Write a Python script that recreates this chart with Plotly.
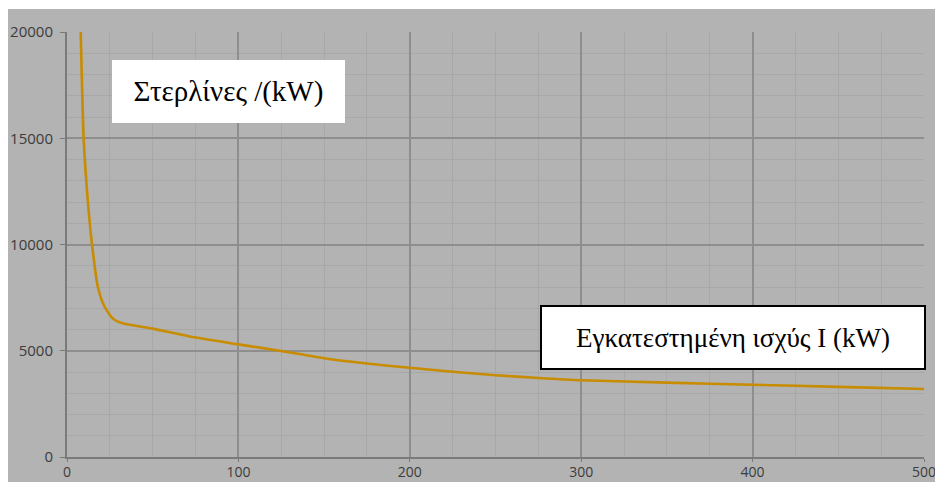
import plotly.graph_objects as go

# Installed power I (kW)
power_kw = [8, 9.7, 12.2, 14.6, 18, 22, 27, 31, 35, 42, 50, 75, 100, 125, 150, 175, 200,
            225, 250, 275, 300, 350, 400, 450, 500]
# Cost (pounds per kW)
cost_per_kw = [20000, 15000, 12000, 10000, 8000, 7060, 6500, 6330, 6250, 6150, 6040, 5620,
               5300, 4990, 4650, 4400, 4200, 4010, 3850, 3720, 3610, 3500, 3400, 3300, 3200]

x_ticks = [0, 100, 200, 300, 400, 500]
y_ticks = [0, 5000, 10000, 15000, 20000]
y_label = "Στερλίνες /(kW)"
x_label = "Εγκατεστημένη ισχύς I (kW)"

GREY = "#b3b3b3"
W, H = 935, 482
L, T = 67, 32
R = W - 924
B = H - 457
pw, ph = W - L - R, H - T - B


def px(xp):  # page pixel -> paper x
    return (xp - L) / pw


def py(yp):  # page pixel -> paper y
    return (H - B - yp) / ph


fig = go.Figure()
fig.add_trace(go.Scatter(
    x=power_kw, y=cost_per_kw, mode="lines",
    line=dict(color="#c88c00", width=2.6, shape="spline", smoothing=0.6),
    hoverinfo="skip", showlegend=False,
))

tickfont = dict(family="Open Sans, DejaVu Sans, sans-serif", size=15, color="#3c3c3c")
fig.update_xaxes(
    range=[0, 500], tickvals=x_ticks, ticktext=[str(v) for v in x_ticks],
    showgrid=True, gridcolor="#8e8e8e", gridwidth=1.5,
    minor=dict(dtick=25, showgrid=True, gridcolor="#a8a8a8", gridwidth=1),
    showline=True, linecolor="#7a7a7a", linewidth=2,
    ticks="outside", ticklen=3, tickcolor="#7a7a7a",
    tickfont=dict(family="Open Sans, DejaVu Sans, sans-serif", size=14, color="#3c3c3c"),
    zeroline=False, fixedrange=True, ticklabelstandoff=-2,
    ticklabeloverflow="allow", automargin=False,
)
fig.update_yaxes(
    range=[0, 20000], tickvals=y_ticks, ticktext=[str(v) for v in y_ticks],
    showgrid=True, gridcolor="#8e8e8e", gridwidth=1.5,
    minor=dict(dtick=1000, showgrid=True, gridcolor="#a8a8a8", gridwidth=1),
    showline=True, linecolor="#7a7a7a", linewidth=2,
    ticks="outside", ticklen=5, tickcolor="#7a7a7a",
    tickfont=tickfont, zeroline=False, fixedrange=True, ticklabelstandoff=4,
    ticklabeloverflow="allow", automargin=False,
)

fig.update_layout(
    width=W, height=H,
    margin=dict(l=L, r=R, t=T, b=B, pad=0, autoexpand=False),
    paper_bgcolor=GREY, plot_bgcolor=GREY,
    shapes=[
        dict(type="rect", xref="paper", yref="paper", x0=px(-5), x1=px(W + 5), y0=py(9), y1=py(-5),
             fillcolor="white", line=dict(width=0), layer="above"),
        dict(type="rect", xref="paper", yref="paper", x0=px(-5), x1=px(8), y0=py(H + 5), y1=py(-5),
             fillcolor="white", line=dict(width=0), layer="above"),
    ],
    annotations=[
        dict(text=y_label, xref="paper", yref="paper", x=px(112), y=py(60),
             xanchor="left", yanchor="top", showarrow=False,
             font=dict(family="Liberation Serif, Times New Roman, serif", size=29, color="#000000"),
             bgcolor="white", borderwidth=0, borderpad=0, width=233, height=63,
             align="center", valign="middle"),
        dict(text=x_label, xref="paper", yref="paper", x=px(540), y=py(305),
             xanchor="left", yanchor="top", showarrow=False,
             font=dict(family="Liberation Serif, Times New Roman, serif", size=27, color="#000000"),
             bgcolor="white", bordercolor="black", borderwidth=2, borderpad=0,
             width=382, height=61, align="center", valign="middle"),
    ],
)

fig.write_html(
    "out.html",
    config=dict(displayModeBar=False),
    post_script="document.body.style.margin='0';document.body.style.overflow='hidden';"
                "document.documentElement.style.overflow='hidden';",
)
